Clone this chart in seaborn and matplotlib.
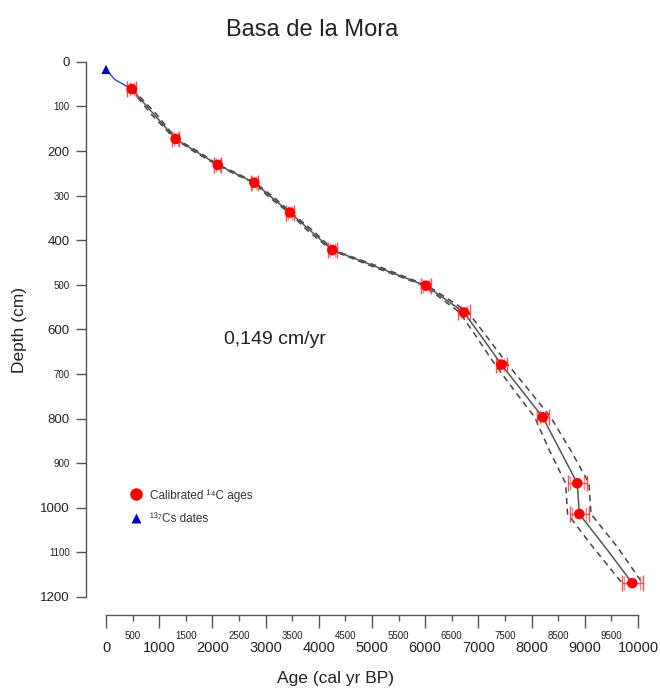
import matplotlib
matplotlib.use("Agg")
import matplotlib.pyplot as plt
import seaborn as sns
import pandas as pd
from matplotlib.ticker import FormatStrFormatter
from matplotlib.lines import Line2D

# ---- data ----
c14_age = [483, 1310, 2100, 2788, 3459, 4254, 6015, 6729, 7434, 8209, 8859, 8897, 9893]
c14_depth = [61, 173, 231, 271, 338, 422, 502, 562, 679, 797, 945, 1014, 1169]
c14_err = [80, 70, 70, 70, 80, 90, 100, 110, 100, 110, 180, 180, 200]
c14_err_inner = [40, 35, 35, 35, 40, 45, 55, 60, 55, 60, 130, 130, 150]

cs_age = [0]
cs_depth = [17]
cs_link_age = [0, 170, 483]
cs_link_depth = [17, 40, 61]

model_depth = [61, 117, 173, 202, 231, 251, 271, 305, 338, 380, 422, 462, 502, 532,
               562, 620, 679, 738, 797, 871, 945, 1014, 1090, 1169]
model_age = [483, 896, 1310, 1705, 2100, 2444, 2788, 3124, 3459, 3856, 4254, 5134, 6015, 6372,
             6729, 7082, 7434, 7822, 8209, 8534, 8859, 8897, 9395, 9893]
model_lo = [468, 846, 1295, 1665, 2085, 2409, 2773, 3079, 3439, 3806, 4234, 5074, 5985, 6312,
            6649, 6982, 7314, 7682, 8059, 8334, 8639, 8677, 9165, 9703]
model_hi = [498, 946, 1325, 1745, 2115, 2479, 2803, 3169, 3479, 3906, 4274, 5194, 6045, 6432,
            6809, 7182, 7554, 7962, 8359, 8734, 9079, 9117, 9625, 10083]

x_major = list(range(0, 10001, 1000))
x_minor = list(range(500, 10000, 1000))
y_major = list(range(0, 1201, 200))
y_minor = list(range(100, 1200, 200))

title = "Basa de la Mora"
rate_text = "0,149 cm/yr"

# ---- style ----
sns.set_style("ticks")
plt.rcParams['font.family'] = ['Liberation Sans', 'DejaVu Sans']

fig = plt.figure(figsize=(6.6, 6.93), dpi=100)
W, H = 660, 693
left_px, right_px, top_px, bot_px = 86, 650, 40, 615
ax = fig.add_axes([left_px / W, 1 - bot_px / H, (right_px - left_px) / W, (bot_px - top_px) / H])

model = pd.DataFrame({"depth": model_depth, "age": model_age, "lo": model_lo, "hi": model_hi})
c14 = pd.DataFrame({"age": c14_age, "depth": c14_depth, "err": c14_err,
                    "err_in": c14_err_inner})
cs = pd.DataFrame({"age": cs_age, "depth": cs_depth})
cslink = pd.DataFrame({"age": cs_link_age, "depth": cs_link_depth})

sns.lineplot(data=model, x="lo", y="depth", sort=False, estimator=None, ax=ax,
             color="#444444", lw=1.1, linestyle=(0, (4, 3)))
sns.lineplot(data=model, x="hi", y="depth", sort=False, estimator=None, ax=ax,
             color="#444444", lw=1.1, linestyle=(0, (4, 3)))
sns.lineplot(data=model, x="age", y="depth", sort=False, estimator=None, ax=ax,
             color="#555555", lw=1.1)
sns.lineplot(data=cslink, x="age", y="depth", sort=False, estimator=None, ax=ax,
             color="#3344dd", lw=1.0)

ax.errorbar(c14["age"], c14["depth"], xerr=c14["err"], fmt="none", ecolor="#ff3030",
            elinewidth=1.0, capsize=5.5, capthick=1.0, alpha=0.85, zorder=3)
ax.errorbar(c14["age"], c14["depth"], xerr=c14["err_in"], fmt="none", ecolor="#ff5050",
            elinewidth=0.0, capsize=5.0, capthick=0.9, alpha=0.7, zorder=3)
sns.scatterplot(data=c14, x="age", y="depth", ax=ax, color="#ff0000", s=58,
                edgecolor="none", zorder=4)
sns.scatterplot(data=cs, x="age", y="depth", ax=ax, color="#0000cc", marker="^", s=45,
                edgecolor="none", zorder=4)

# ---- axes (R-like detached axes) ----
ax.set_xlim(-376, 10226)
ax.set_ylim(1240.5, -49)
for s in ["top", "right"]:
    ax.spines[s].set_visible(False)
for s in ["left", "bottom"]:
    ax.spines[s].set_color("#555555")
    ax.spines[s].set_linewidth(1.0)
ax.spines["left"].set_bounds(0, 1200)
ax.spines["bottom"].set_bounds(0, 10000)

ax.xaxis.set_major_locator(plt.FixedLocator(x_major))
ax.xaxis.set_minor_locator(plt.FixedLocator(x_minor))
ax.yaxis.set_major_locator(plt.FixedLocator(y_major))
ax.yaxis.set_minor_locator(plt.FixedLocator(y_minor))
for axis in (ax.xaxis, ax.yaxis):
    axis.set_major_formatter(FormatStrFormatter('%d'))
    axis.set_minor_formatter(FormatStrFormatter('%d'))

ax.tick_params(axis='x', which='major', length=9.4, width=1.0, color="#555555",
               labelsize=10.5, pad=9.0, labelcolor="#222222")
ax.tick_params(axis='x', which='minor', length=4.3, width=1.0, color="#555555",
               labelsize=7, pad=7.5, labelcolor="#222222")
ax.tick_params(axis='y', which='major', length=7.2, width=1.0, color="#555555",
               labelsize=9.5, pad=4.5, labelcolor="#222222")
ax.tick_params(axis='y', which='minor', length=7.2, width=1.0, color="#555555",
               labelsize=7, pad=4.5, labelcolor="#222222")

ax.set_xlabel("")
ax.set_ylabel("")
fig.text(336 / W, 1 - 678 / H, "Age (cal yr BP)", ha="center", va="center",
         fontsize=12.5, color="#222222")
fig.text(20 / W, 1 - 330 / H, "Depth (cm)", ha="center", va="center", rotation=90,
         fontsize=12.5, color="#222222")
fig.text(312 / W, 1 - 30 / H, title, ha="center", va="center", fontsize=17, color="#222222")
fig.text(275 / W, 1 - 340 / H, rate_text, ha="center", va="center", fontsize=14,
         color="#222222")

handles = [
    Line2D([], [], marker="o", color="none", markerfacecolor="#ff0000",
           markeredgecolor="none", markersize=9),
    Line2D([], [], marker="^", color="none", markerfacecolor="#0000cc",
           markeredgecolor="none", markersize=7.5),
]
leg = ax.legend(handles, ["Calibrated ¹⁴C ages", "¹³⁷Cs dates"], loc="upper left",
                bbox_to_anchor=(130 / W, 1 - 489 / H), bbox_transform=fig.transFigure,
                frameon=False, fontsize=8.5, handlelength=1.0, handletextpad=0.7,
                labelspacing=1.0, borderpad=0, borderaxespad=0)
for t in leg.get_texts():
    t.set_color("#333333")

fig.savefig("out.png", dpi=100)
